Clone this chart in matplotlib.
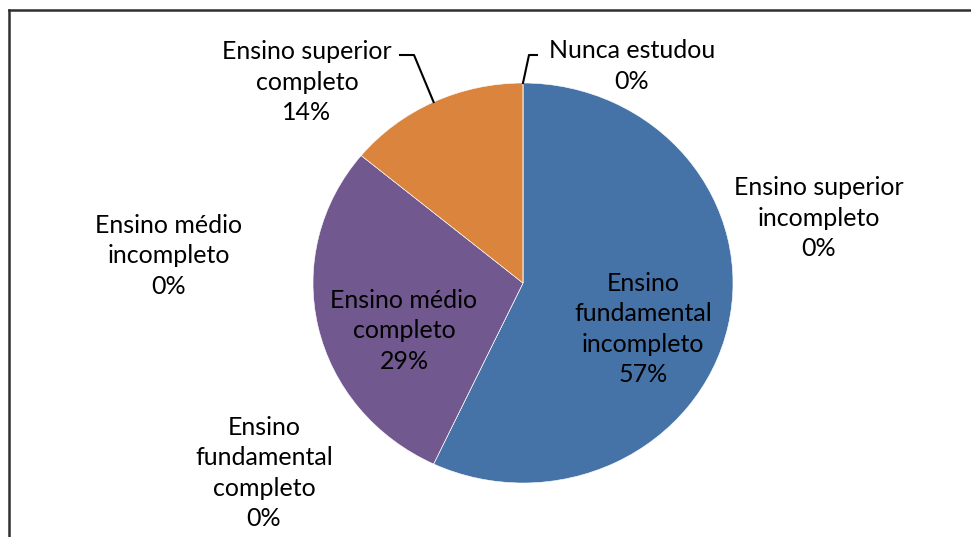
import numpy as np
import matplotlib
matplotlib.use("Agg")
import matplotlib.pyplot as plt
from matplotlib.lines import Line2D

# dados (sentido horário a partir do topo)
categorias = ["Ensino\nfundamental\nincompleto", "Ensino\nfundamental\ncompleto",
              "Ensino médio\nincompleto", "Ensino médio\ncompleto",
              "Ensino superior\nincompleto", "Ensino superior\ncompleto",
              "Nunca estudou"]
valores = [57, 0, 0, 29, 0, 14, 0]
cores = ["#4572A7", "#AA4643", "#89A54E", "#71588F", "#4198AF", "#DB843D", "#93A9CF"]

# posição dos rótulos em pixels (x, y) e cotovelos das linhas de chamada
pos_rotulos = [(643, 329), (264, 473), (169, 256), (404, 331), (819, 218), (307, 82), (632, 66)]
cotovelos = [None, None, None, None, None, [(414, 55), (400, 55)], [(529, 55), (537, 55)]]

W, H = 971, 537
plt.rcParams['font.family'] = ['Lato', 'DejaVu Sans']
fig = plt.figure(figsize=(W / 100, H / 100), dpi=100)

# moldura (esquerda e topo)
fig.add_artist(Line2D([9 / W, 9 / W], [0, 1 - 10 / H], transform=fig.transFigure,
                      color="#303030", lw=1.8))
fig.add_artist(Line2D([9 / W, 1], [1 - 10 / H, 1 - 10 / H], transform=fig.transFigure,
                      color="#303030", lw=1.8))

ax = fig.add_axes([313 / W, 54 / H, 420 / W, 400 / H])
wedges, _ = ax.pie(valores, colors=cores, startangle=90, counterclock=False,
                   wedgeprops=dict(edgecolor="white", linewidth=0.4))
ax.set_aspect("auto")
ax.set_xlim(-1, 1)
ax.set_ylim(-1, 1)
ax.axis("off")

def px(x, y):
    return x / W, 1 - y / H

for i, (cat, v) in enumerate(zip(categorias, valores)):
    x, y = pos_rotulos[i]
    fig.text(*px(x, y), f"{cat}\n{v}%", ha="center", va="center", fontsize=18,
             linespacing=1.38, color="black")
    if cotovelos[i] is not None:
        w = wedges[i]
        ang = np.deg2rad((w.theta1 + w.theta2) / 2)
        p0 = fig.transFigure.inverted().transform(
            ax.transData.transform((np.cos(ang), np.sin(ang))))
        xs = [p0[0]] + [px(*c)[0] for c in cotovelos[i]]
        ys = [p0[1]] + [px(*c)[1] for c in cotovelos[i]]
        fig.add_artist(Line2D(xs, ys, transform=fig.transFigure, color="black", lw=1.5))

fig.savefig("out.png", dpi=100)
